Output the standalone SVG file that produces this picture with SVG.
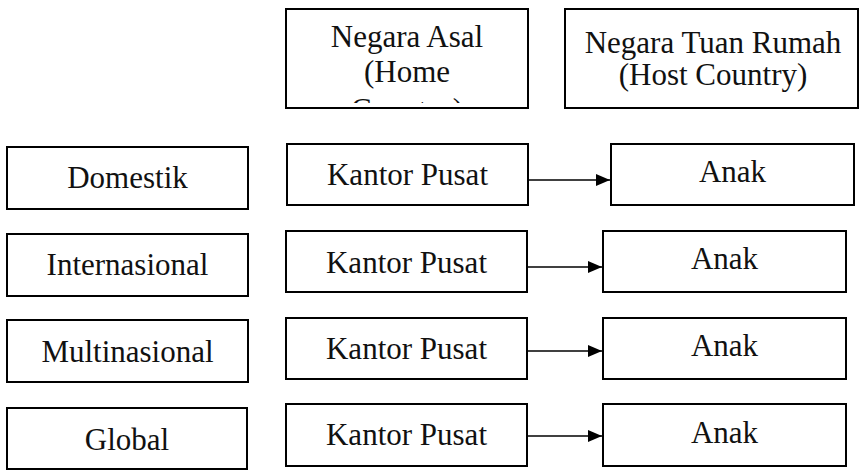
<svg xmlns="http://www.w3.org/2000/svg" width="862" height="470" viewBox="0 0 862 470">
  <style>
    .box { fill: #ffffff; stroke: #000000; stroke-width: 2; }
    .lbl { font-family: "Liberation Serif", "Times New Roman", serif; font-size: 31px; fill: #111111; text-anchor: middle; }
    .link { stroke: #000000; stroke-width: 1.3; fill: none; marker-end: url(#head); }
  </style>
  <defs>
    <marker id="head" markerWidth="14" markerHeight="12" refX="14" refY="6" orient="auto" markerUnits="userSpaceOnUse">
      <path d="M0,0 L14,6 L0,12 Z" fill="#000000"/>
    </marker>
    <clipPath id="homeClip">
      <rect x="286" y="9" width="241" height="94"/>
    </clipPath>
  </defs>

  <!-- column headers -->
  <g id="home-country">
    <rect class="box" x="286" y="9" width="242" height="99"/>
    <g clip-path="url(#homeClip)">
      <text class="lbl" x="407" y="47">Negara Asal</text>
      <text class="lbl" x="407" y="82">(Home</text>
      <text class="lbl" x="407" y="120">Country)</text>
    </g>
  </g>
  <g id="host-country">
    <rect class="box" x="565" y="9" width="293" height="99"/>
    <text class="lbl" x="713" y="53">Negara Tuan Rumah</text>
    <text class="lbl" x="713" y="85">(Host Country)</text>
  </g>

  <!-- strategy types -->
  <g id="domestik">
    <rect class="box" x="7" y="147" width="241" height="62"/>
    <text class="lbl" x="127.5" y="188">Domestik</text>
  </g>
  <g id="internasional">
    <rect class="box" x="7" y="234" width="241" height="62"/>
    <text class="lbl" x="127.5" y="275">Internasional</text>
  </g>
  <g id="multinasional">
    <rect class="box" x="7" y="320" width="241" height="62"/>
    <text class="lbl" x="127.5" y="362">Multinasional</text>
  </g>
  <g id="global">
    <rect class="box" x="7" y="408" width="240" height="61"/>
    <text class="lbl" x="127" y="450">Global</text>
  </g>

  <!-- headquarters -->
  <g id="kantor-1">
    <rect class="box" x="287" y="144" width="241" height="61"/>
    <text class="lbl" x="407.5" y="185">Kantor Pusat</text>
  </g>
  <g id="kantor-2">
    <rect class="box" x="286" y="231" width="241" height="61"/>
    <text class="lbl" x="406.5" y="273">Kantor Pusat</text>
  </g>
  <g id="kantor-3">
    <rect class="box" x="286" y="318" width="241" height="61"/>
    <text class="lbl" x="406.5" y="359">Kantor Pusat</text>
  </g>
  <g id="kantor-4">
    <rect class="box" x="286" y="404" width="241" height="62"/>
    <text class="lbl" x="406.5" y="445">Kantor Pusat</text>
  </g>

  <!-- subsidiaries -->
  <g id="anak-1">
    <rect class="box" x="611" y="144" width="243" height="61"/>
    <text class="lbl" x="732.5" y="182">Anak</text>
  </g>
  <g id="anak-2">
    <rect class="box" x="603" y="231" width="243" height="61"/>
    <text class="lbl" x="724.5" y="269">Anak</text>
  </g>
  <g id="anak-3">
    <rect class="box" x="603" y="318" width="243" height="61"/>
    <text class="lbl" x="724.5" y="356">Anak</text>
  </g>
  <g id="anak-4">
    <rect class="box" x="603" y="404" width="243" height="62"/>
    <text class="lbl" x="724.5" y="443">Anak</text>
  </g>

  <!-- connectors -->
  <g id="connectors">
    <line class="link" x1="528" y1="180" x2="610" y2="180"/>
    <line class="link" x1="527" y1="267" x2="602" y2="267"/>
    <line class="link" x1="527" y1="351" x2="602" y2="351"/>
    <line class="link" x1="527" y1="436" x2="602" y2="436"/>
  </g>
</svg>
